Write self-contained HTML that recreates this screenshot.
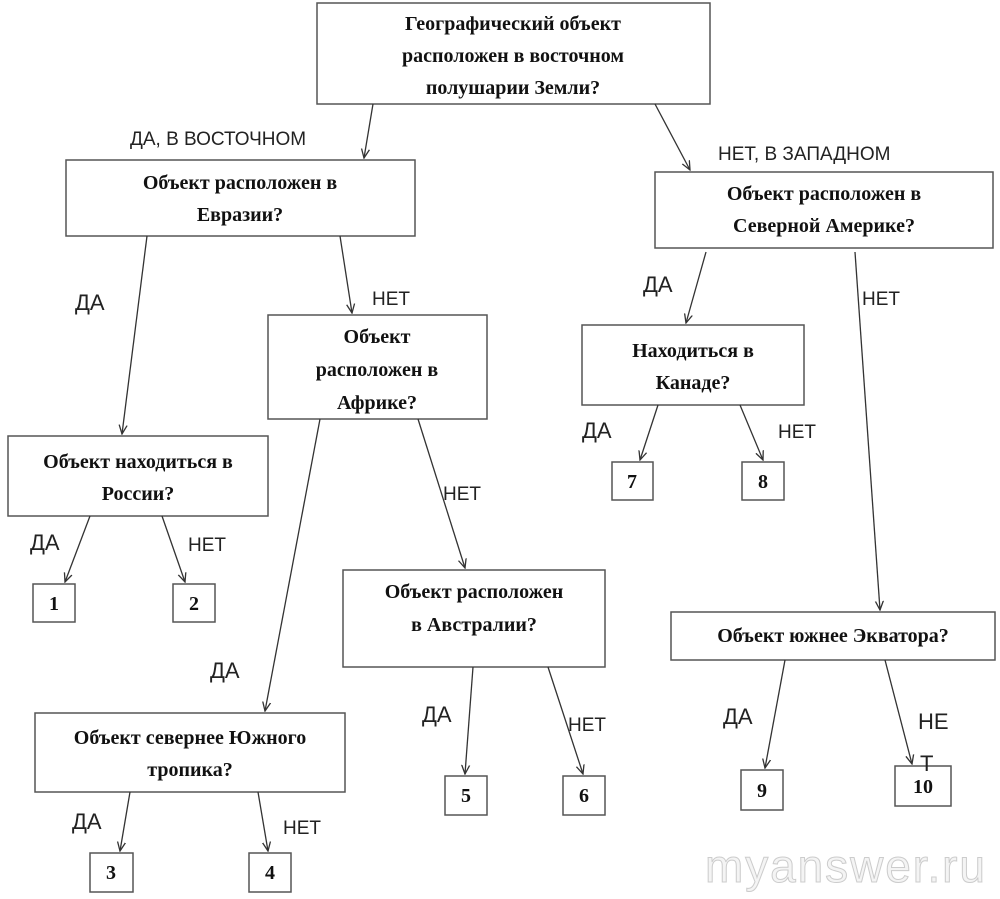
<!DOCTYPE html>
<html><head><meta charset="utf-8"><style>
html,body{margin:0;padding:0;background:#fff;}
svg{display:block}
.b{fill:#fff;stroke:#555;stroke-width:1.5}
.t{font-family:"Liberation Serif",serif;font-weight:bold;font-size:20px;fill:#111;text-anchor:middle}
.l{font-family:"Liberation Sans",sans-serif;font-size:19px;fill:#222}
.a{stroke:#333;stroke-width:1.3;fill:none;marker-end:url(#ar)}
</style></head><body>
<svg width="1000" height="899" viewBox="0 0 1000 899" xmlns="http://www.w3.org/2000/svg">
<defs><marker id="ar" markerWidth="10" markerHeight="10" refX="9" refY="5" orient="auto" markerUnits="userSpaceOnUse"><path d="M0,1 L9,5 L0,9" fill="none" stroke="#333" stroke-width="1.3"/></marker></defs>
<rect class="b" x="317" y="3" width="393" height="101"/>
<text class="t" x="513" y="30">Географический объект</text>
<text class="t" x="513" y="62">расположен в восточном</text>
<text class="t" x="513" y="94">полушарии Земли?</text>
<rect class="b" x="66" y="160" width="349" height="76"/>
<text class="t" x="240" y="189">Объект расположен в</text>
<text class="t" x="240" y="221">Евразии?</text>
<rect class="b" x="655" y="172" width="338" height="76"/>
<text class="t" x="824" y="200">Объект расположен в</text>
<text class="t" x="824" y="232">Северной Америке?</text>
<rect class="b" x="268" y="315" width="219" height="104"/>
<text class="t" x="377" y="343">Объект</text>
<text class="t" x="377" y="376">расположен в</text>
<text class="t" x="377" y="409">Африке?</text>
<rect class="b" x="582" y="325" width="222" height="80"/>
<text class="t" x="693" y="357">Находиться в</text>
<text class="t" x="693" y="389">Канаде?</text>
<rect class="b" x="8" y="436" width="260" height="80"/>
<text class="t" x="138" y="468">Объект находиться в</text>
<text class="t" x="138" y="500">России?</text>
<rect class="b" x="343" y="570" width="262" height="97"/>
<text class="t" x="474" y="598">Объект расположен</text>
<text class="t" x="474" y="631">в Австралии?</text>
<rect class="b" x="671" y="612" width="324" height="48"/>
<text class="t" x="833" y="642">Объект южнее Экватора?</text>
<rect class="b" x="35" y="713" width="310" height="79"/>
<text class="t" x="190" y="744">Объект севернее Южного</text>
<text class="t" x="190" y="776">тропика?</text>
<rect class="b" x="33" y="584" width="42" height="38"/><text class="t" x="54" y="610">1</text>
<rect class="b" x="173" y="584" width="42" height="38"/><text class="t" x="194" y="610">2</text>
<rect class="b" x="612" y="462" width="41" height="38"/><text class="t" x="632" y="488">7</text>
<rect class="b" x="742" y="462" width="42" height="38"/><text class="t" x="763" y="488">8</text>
<rect class="b" x="445" y="776" width="42" height="39"/><text class="t" x="466" y="802">5</text>
<rect class="b" x="563" y="776" width="42" height="39"/><text class="t" x="584" y="802">6</text>
<rect class="b" x="741" y="770" width="42" height="40"/><text class="t" x="762" y="797">9</text>
<rect class="b" x="895" y="766" width="56" height="40"/><text class="t" x="923" y="793">10</text>
<rect class="b" x="90" y="853" width="43" height="39"/><text class="t" x="111" y="879">3</text>
<rect class="b" x="249" y="853" width="42" height="39"/><text class="t" x="270" y="879">4</text>
<line class="a" x1="373" y1="104" x2="364" y2="158"/>
<line class="a" x1="655" y1="104" x2="690" y2="170"/>
<line class="a" x1="147" y1="236" x2="122" y2="434"/>
<line class="a" x1="340" y1="236" x2="352" y2="313"/>
<line class="a" x1="706" y1="252" x2="686" y2="323"/>
<line class="a" x1="855" y1="252" x2="880" y2="610"/>
<line class="a" x1="658" y1="405" x2="640" y2="460"/>
<line class="a" x1="740" y1="405" x2="763" y2="460"/>
<line class="a" x1="90" y1="516" x2="65" y2="582"/>
<line class="a" x1="162" y1="516" x2="185" y2="582"/>
<line class="a" x1="320" y1="419" x2="265" y2="711"/>
<line class="a" x1="418" y1="419" x2="465" y2="568"/>
<line class="a" x1="473" y1="667" x2="465" y2="774"/>
<line class="a" x1="548" y1="667" x2="583" y2="774"/>
<line class="a" x1="785" y1="660" x2="765" y2="768"/>
<line class="a" x1="885" y1="660" x2="912" y2="764"/>
<line class="a" x1="130" y1="792" x2="120" y2="851"/>
<line class="a" x1="258" y1="792" x2="268" y2="851"/>
<text class="l" x="130" y="145">ДА, В ВОСТОЧНОМ</text>
<text class="l" x="718" y="160">НЕТ, В ЗАПАДНОМ</text>
<text class="l" x="75" y="310" style="font-size:22px">ДА</text>
<text class="l" x="372" y="305">НЕТ</text>
<text class="l" x="643" y="292" style="font-size:22px">ДА</text>
<text class="l" x="862" y="305">НЕТ</text>
<text class="l" x="582" y="438" style="font-size:22px">ДА</text>
<text class="l" x="778" y="438">НЕТ</text>
<text class="l" x="30" y="550" style="font-size:22px">ДА</text>
<text class="l" x="188" y="551">НЕТ</text>
<text class="l" x="210" y="678" style="font-size:22px">ДА</text>
<text class="l" x="443" y="500">НЕТ</text>
<text class="l" x="422" y="722" style="font-size:22px">ДА</text>
<text class="l" x="568" y="731">НЕТ</text>
<text class="l" x="723" y="724" style="font-size:22px">ДА</text>
<text class="l" x="918" y="729" style="font-size:22px">НЕ</text>
<text class="l" x="920" y="771" style="font-size:22px">Т</text>
<text class="l" x="72" y="829" style="font-size:22px">ДА</text>
<text class="l" x="283" y="834">НЕТ</text>
<text x="705" y="882" textLength="280" style="font-family:'Liberation Sans',sans-serif;font-size:46px;fill:#f4f4f4;stroke:#ccc;stroke-width:1">myanswer.ru</text>
</svg>
</body></html>
